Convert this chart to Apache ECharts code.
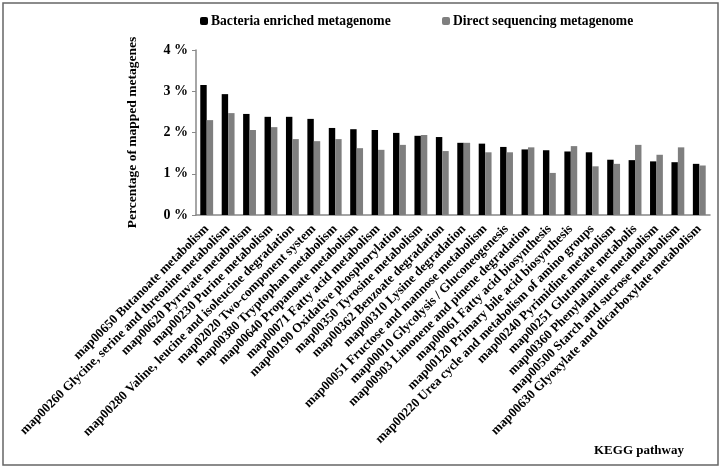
<!DOCTYPE html>
<html><head><meta charset="utf-8">
<script src="https://cdn.jsdelivr.net/npm/echarts@6/dist/echarts.min.js"></script>
<style>html,body{margin:0;padding:0;background:#fff}#c{width:725px;height:472px}</style>
</head><body><div id="c"></div>
<script>
const categories = [
  "map00650 Butanoate metabolism",
  "map00260 Glycine, serine and threonine metabolism",
  "map00620 Pyruvate metabolism",
  "map00230 Purine metabolism",
  "map00280 Valine, leucine and isoleucine degradation",
  "map02020 Two-component system",
  "map00380 Tryptophan metabolism",
  "map00640 Propanoate metabolism",
  "map00071 Fatty acid metabolism",
  "map00190 Oxidative phosphorylation",
  "map00350 Tyrosine metabolism",
  "map00362 Benzoate degradation",
  "map00310 Lysine degradation",
  "map00051 Fructose and mannose metabolism",
  "map00010 Glycolysis / Gluconeogenesis",
  "map00903 Limonene and pinene degradation",
  "map00061 Fatty acid biosynthesis",
  "map00120 Primary bile acid biosynthesis",
  "map00220 Urea cycle and metabolism of amino groups",
  "map00240 Pyrimidine metabolism",
  "map00251 Glutamate metabolis",
  "map00360 Phenylalanine metabolism",
  "map00500 Starch and sucrose metabolism",
  "map00630 Glyoxylate and dicarboxylate metabolism"
];
const bacteriaEnriched = [3.15,2.93,2.45,2.38,2.38,2.33,2.11,2.08,2.06,1.99,1.92,1.89,1.75,1.73,1.65,1.59,1.57,1.54,1.52,1.34,1.33,1.30,1.28,1.24];
const directSequencing = [2.30,2.47,2.06,2.13,1.84,1.79,1.84,1.62,1.58,1.70,1.94,1.55,1.75,1.52,1.52,1.64,1.02,1.67,1.18,1.24,1.70,1.46,1.64,1.20];
const yTicks = [0,1,2,3,4];

const F = "'Liberation Serif', serif";
const chart = echarts.init(document.getElementById('c'));
chart.setOption({
  animation: false,
  textStyle: {fontFamily: F},
  grid: {left: 196, right: 15, top: 50, bottom: 257, containLabel: false},
  legend: [
    {data: ["Bacteria enriched metagenome"], left: 195, top: 9, itemWidth: 8, itemHeight: 8, itemGap: 4,
     textStyle: {fontFamily: F, fontWeight: 'bold', fontSize: 13.6, color: '#000', padding: [0,0,0,-2]}},
    {data: ["Direct sequencing metagenome"], left: 437, top: 9, itemWidth: 8, itemHeight: 8, itemGap: 4,
     textStyle: {fontFamily: F, fontWeight: 'bold', fontSize: 13.6, color: '#000', padding: [0,0,0,-2]}}
  ],
  xAxis: {
    type: 'category', data: categories,
    axisLine: {lineStyle: {color: '#888', width: 1.5}},
    axisTick: {show: false},
    axisLabel: {rotate: 45, interval: 0, margin: 12, color: '#000', fontFamily: F, fontWeight: 'bold', fontSize: 13}
  },
  yAxis: {
    type: 'value', min: 0, max: 4, interval: 1,
    name: 'Percentage of mapped metagenes', nameLocation: 'middle', nameGap: 56,
    nameTextStyle: {fontFamily: F, fontWeight: 'bold', fontSize: 13.5, color: '#000'},
    axisLine: {show: true, lineStyle: {color: '#888', width: 1.5}},
    axisTick: {show: true, length: 4, lineStyle: {color: '#888'}},
    splitLine: {show: false},
    axisLabel: {margin: 8, color: '#000', fontFamily: F, fontWeight: 'bold', fontSize: 14,
      formatter: v => yTicks.includes(v) ? v + ' %' : ''}
  },
  series: [
    {name: "Bacteria enriched metagenome", type: 'bar', data: bacteriaEnriched, barWidth: '30%', barGap: '0%',
     itemStyle: {color: '#000'}},
    {name: "Direct sequencing metagenome", type: 'bar', data: directSequencing, barWidth: '30%', barGap: '0%',
     itemStyle: {color: '#7f7f7f'}}
  ],
  graphic: [
    {type: 'rect', shape: {x: 3, y: 3, width: 715, height: 462}, style: {fill: 'none', stroke: '#666', lineWidth: 1.5}, z: -1},
    {type: 'text', left: 594, top: 444, style: {text: 'KEGG pathway', font: "bold 13px 'Liberation Serif', serif", fill: '#000'}}
  ]
});
</script></body></html>
